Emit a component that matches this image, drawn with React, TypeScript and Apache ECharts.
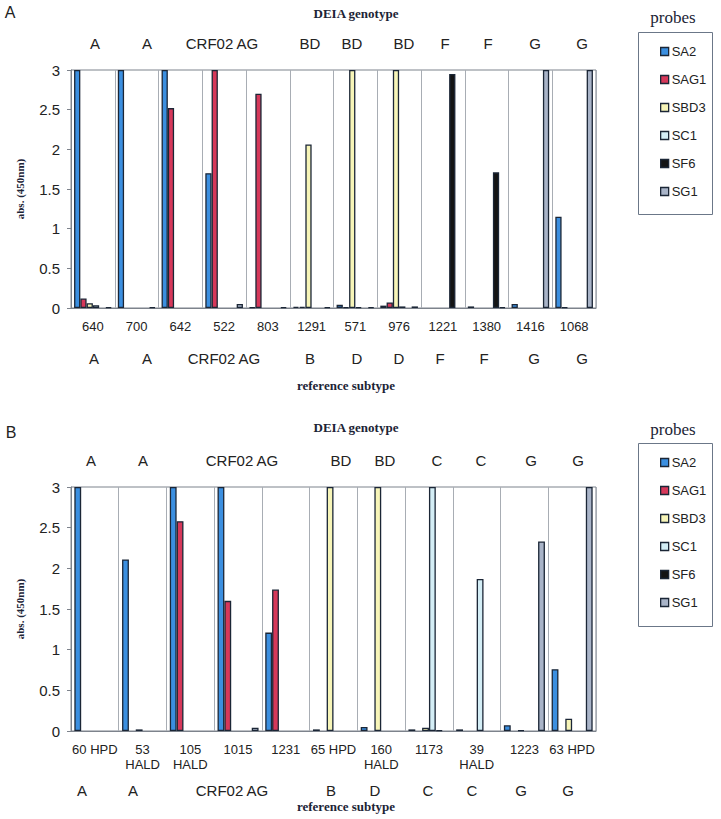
import React, { useEffect, useRef } from 'react';
import * as echarts from 'echarts';

// ---------- data ----------
const probes = ['SA2', 'SAG1', 'SBD3', 'SC1', 'SF6', 'SG1'];

const samplesA = ['640', '700', '642', '522', '803', '1291', '571', '976', '1221', '1380', '1416', '1068'];
const sa2A = [3, 3, 3, 1.7, 0.01, 0.015, 0.04, 0.03, 0, 0.02, 0.05, 1.15];
const sag1A = [0.12, 0, 2.52, 3, 2.7, 0.015, 0.01, 0.07, 0, 0, 0, 0.01];
const sbd3A = [0.06, 0, 0, 0, 0, 2.06, 3, 3, 0, 0, 0, 0];
const sc1A = [0.035, 0, 0, 0, 0, 0, 0.01, 0.02, 0, 0, 0, 0];
const sf6A = [0, 0, 0, 0, 0, 0, 0, 0, 2.95, 1.71, 0, 0];
const sg1A = [0.01, 0.01, 0, 0.05, 0.01, 0.01, 0.01, 0.02, 0, 0.01, 3, 3];

const samplesB = ['60 HPD', '53\nHALD', '105\nHALD', '1015', '1231', '65 HPD', '160\nHALD', '1173', '39\nHALD', '1223', '63 HPD'];
const sa2B = [3, 2.11, 3, 3, 1.21, 0.02, 0.05, 0.02, 0.02, 0.07, 0.76];
const sag1B = [0, 0, 2.58, 1.6, 1.74, 0, 0, 0, 0, 0, 0];
const sbd3B = [0, 0.02, 0, 0, 0, 3, 3, 0.04, 0, 0.01, 0.15];
const sc1B = [0, 0, 0, 0, 0, 0, 0, 3, 1.87, 0, 0];
const sf6B = [0, 0, 0, 0, 0, 0, 0, 0.01, 0, 0, 0];
const sg1B = [0, 0, 0, 0.04, 0, 0, 0, 0, 0, 2.33, 3];

const genotypeA = ['A', 'A', 'CRF02 AG', 'BD', 'BD', 'BD', 'F', 'F', 'G', 'G'];
const subtypeA = ['A', 'A', 'CRF02 AG', 'B', 'D', 'D', 'F', 'F', 'G', 'G'];
const genotypeB = ['A', 'A', 'CRF02 AG', 'BD', 'BD', 'C', 'C', 'G', 'G'];
const subtypeB = ['A', 'A', 'CRF02 AG', 'B', 'D', 'C', 'C', 'G', 'G'];

const yTicks = [0, 0.5, 1, 1.5, 2, 2.5, 3];

// ---------- layout / style ----------
const genotypeAX = [95, 147, 222, 310, 352, 404, 445, 488, 535, 582];
const subtypeAX = [94, 147, 224, 310, 357, 399, 440, 484, 534, 582];
const genotypeBX = [91, 143, 242, 341, 385, 437, 481, 531, 578];
const subtypeBX = [82, 133, 232, 331, 375, 428, 472, 521, 568];

const probeColors = ['#3b8fe0', '#d6385a', '#f7f5b8', '#d4eef6', '#141414', '#a9b4c8'];
const barBorder = '#1b2636';
const textDark = '#222';
const sans = 'Liberation Sans, Arial, sans-serif';
const serif = 'Liberation Serif, Times New Roman, serif';

export default function App() {
  const ref = useRef<HTMLDivElement>(null);

  useEffect(() => {
    const chart = echarts.init(ref.current!, null, { renderer: 'svg' });

    const valuesA = [sa2A, sag1A, sbd3A, sc1A, sf6A, sg1A];
    const valuesB = [sa2B, sag1B, sbd3B, sc1B, sf6B, sg1B];

    const series: any[] = [];
    [valuesA, valuesB].forEach((vals, p) => {
      probes.forEach((name, i) => {
        series.push({
          type: 'bar',
          name,
          xAxisIndex: p,
          yAxisIndex: p,
          data: vals[i].map((v) => (v === 0 ? null : v)),
          barGap: '0%',
          barCategoryGap: '14%',
          itemStyle: { color: probeColors[i], borderColor: barBorder, borderWidth: 1.3 },
        });
      });
    });

    const mkText = (text: string, x: number, y: number, font: string, color = textDark) => ({
      type: 'text',
      x,
      y,
      style: {
        text,
        font,
        fill: color,
        align: 'center',
        verticalAlign: 'middle',
        textAlign: 'center',
        textVerticalAlign: 'middle',
      },
      silent: true,
    });

    const labelFont = `15px ${sans}`;
    const titleFont = `bold 13px ${serif}`;
    const graphics: any[] = [];
    graphics.push(mkText('A', 10, 12, `16px ${sans}`));
    graphics.push(mkText('B', 11, 432, `16px ${sans}`));
    graphics.push(mkText('DEIA genotype', 356, 13, titleFont, '#1c2436'));
    graphics.push(mkText('DEIA genotype', 356, 427, titleFont, '#1c2436'));
    graphics.push(mkText('reference subtype', 346, 385, titleFont, '#1c2436'));
    graphics.push(mkText('reference subtype', 346, 806, titleFont, '#1c2436'));
    graphics.push(mkText('probes', 673, 17, `17px ${serif}`, '#1c2436'));
    graphics.push(mkText('probes', 673, 429, `17px ${serif}`, '#1c2436'));
    genotypeA.forEach((t, i) => graphics.push(mkText(t, genotypeAX[i], 43, labelFont)));
    subtypeA.forEach((t, i) => graphics.push(mkText(t, subtypeAX[i], 358, labelFont)));
    genotypeB.forEach((t, i) => graphics.push(mkText(t, genotypeBX[i], 460, labelFont)));
    subtypeB.forEach((t, i) => graphics.push(mkText(t, subtypeBX[i], 790, labelFont)));
    graphics.push({
      type: 'rect',
      shape: { x: 638.5, y: 32.5, width: 74, height: 182 },
      style: { fill: 'none', stroke: '#6b7788', lineWidth: 1 },
      silent: true,
    });
    graphics.push({
      type: 'rect',
      shape: { x: 638.5, y: 443.5, width: 74, height: 183 },
      style: { fill: 'none', stroke: '#6b7788', lineWidth: 1 },
      silent: true,
    });

    const mkX = (grid: number, data: string[]) => ({
      type: 'category',
      gridIndex: grid,
      data,
      axisTick: { show: false },
      axisLine: { lineStyle: { color: '#7d838c', width: 1 } },
      splitLine: { show: true, interval: 0, lineStyle: { color: '#a8adb4', width: 1 } },
      axisLabel: { interval: 0, margin: 11, fontSize: 13, fontFamily: sans, color: textDark, lineHeight: 15 },
    });
    const mkY = (grid: number) => ({
      type: 'value',
      gridIndex: grid,
      min: yTicks[0],
      max: yTicks[yTicks.length - 1],
      interval: yTicks[1] - yTicks[0],
      axisLine: { show: true, lineStyle: { color: '#7d838c', width: 1 } },
      axisTick: { show: true, length: 4, lineStyle: { color: '#7d838c' } },
      splitLine: { show: false },
      axisLabel: { fontSize: 15, fontFamily: sans, color: textDark, margin: 11 },
      name: 'abs. (450nm)',
      nameLocation: 'middle',
      nameGap: 46,
      nameRotate: 90,
      nameTextStyle: { fontFamily: serif, fontWeight: 'bold', fontSize: 11, color: '#1c2436' },
    });

    const mkLegend = (top: number) => ({
      left: 655,
      top,
      orient: 'vertical',
      icon: 'rect',
      itemWidth: 8,
      itemHeight: 8,
      itemGap: 15,
      selectedMode: false,
      data: probes,
      itemStyle: { borderColor: barBorder, borderWidth: 1.3 },
      textStyle: { fontSize: 13, fontFamily: sans, color: textDark, padding: [0, 0, 0, -2] },
    });

    chart.setOption({
      animation: false,
      backgroundColor: '#ffffff',
      grid: [
        { left: 71, top: 70, width: 525, height: 238, show: true, borderColor: '#7d838c', borderWidth: 1 },
        { left: 71, top: 487, width: 525, height: 244, show: true, borderColor: '#7d838c', borderWidth: 1 },
      ],
      xAxis: [mkX(0, samplesA), mkX(1, samplesB)],
      yAxis: [mkY(0), mkY(1)],
      legend: [mkLegend(40), mkLegend(451)],
      series,
      graphic: graphics,
    });

    return () => chart.dispose();
  }, []);

  return <div ref={ref} style={{ position: 'absolute', left: 0, top: 0, width: 721, height: 819 }} />;
}
